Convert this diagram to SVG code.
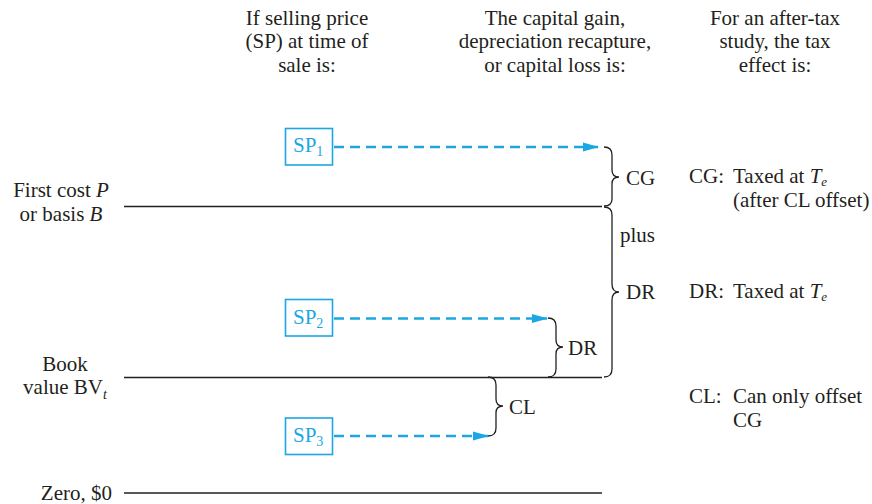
<svg xmlns="http://www.w3.org/2000/svg" width="872" height="504" viewBox="0 0 872 504">
<defs>
<style>
text{font-family:"Liberation Serif","Times New Roman",serif;font-size:21px;fill:#231f20}
.c{text-anchor:middle}
.sp{fill:#1aa7e4}
.sub{font-size:14px}
.sube{font-size:13px}
.box{fill:none;stroke:#1aa7e4;stroke-width:1.6}
.arr{stroke:#1aa7e4;stroke-width:2.6;stroke-dasharray:10 6;fill:none}
.ln{stroke:#231f20;stroke-width:1.4;fill:none}
.br{stroke:#231f20;stroke-width:1.3;fill:none}
</style>
<marker id="ah" viewBox="0 0 16 10" refX="15" refY="5" markerWidth="16" markerHeight="10" markerUnits="userSpaceOnUse" orient="auto">
<path d="M0,0.5 L16,5 L0,9.5 z" fill="#1aa7e4"/>
</marker>
</defs>
<rect width="872" height="504" fill="#ffffff"/>

<g id="headers">
<text class="c" x="307" y="25">If selling price</text>
<text class="c" x="307" y="48">(SP) at time of</text>
<text class="c" x="307" y="72">sale is:</text>
<text class="c" x="555" y="25">The capital gain,</text>
<text class="c" x="555" y="48">depreciation recapture,</text>
<text class="c" x="555" y="72">or capital loss is:</text>
<text class="c" x="775" y="25">For an after-tax</text>
<text class="c" x="775" y="48">study, the tax</text>
<text class="c" x="775" y="72">effect is:</text>
</g>

<g id="level-first-cost">
<text class="c" x="61" y="197">First cost <tspan font-style="italic">P</tspan></text>
<text class="c" x="61" y="221">or basis <tspan font-style="italic">B</tspan></text>
</g>
<g id="level-book-value">
<text class="c" x="65" y="371">Book</text>
<text class="c" x="65" y="394">value BV<tspan class="sub" font-style="italic" dy="5">t</tspan></text>
</g>
<g id="level-zero">
<text x="112" y="500" text-anchor="end">Zero, $0</text>
</g>

<g id="sp1">
<rect class="box" x="285.5" y="128.5" width="47" height="36.5"/>
<text class="sp" x="293" y="152">SP<tspan class="sub" dy="4">1</tspan></text>
</g>
<g id="sp2">
<rect class="box" x="285.5" y="299.5" width="47" height="36.5"/>
<text class="sp" x="293" y="323.5">SP<tspan class="sub" dy="4">2</tspan></text>
</g>
<g id="sp3">
<rect class="box" x="285.5" y="418" width="47" height="36.5"/>
<text class="sp" x="293" y="442">SP<tspan class="sub" dy="4">3</tspan></text>
</g>

<g id="connectors">
<line class="ln" x1="124" y1="206.5" x2="602" y2="206.5"/>
<line class="ln" x1="124" y1="377.5" x2="602" y2="377.5"/>
<line class="ln" x1="124" y1="493" x2="602" y2="493"/>
<line class="arr" x1="334" y1="147" x2="598" y2="147" marker-end="url(#ah)"/>
<line class="arr" x1="334" y1="318.5" x2="547" y2="318.5" marker-end="url(#ah)"/>
<line class="arr" x1="334" y1="436" x2="488" y2="436" marker-end="url(#ah)"/>
<path class="br" d="M604,147 Q612,147 612,155 L612,170 Q612,177 619,177 Q612,177 612,184 L612,199 Q612,206 604,206"/>
<path class="br" d="M604,207 Q612,207 612,215 L612,284 Q612,292 619,292 Q612,292 612,300 L612,369 Q612,377 604,377"/>
<path class="br" d="M548,318 Q556,318 556,326 L556,340 Q556,347 563,347 Q556,347 556,354 L556,369 Q556,377 548,377"/>
<path class="br" d="M488,377 Q496,377 496,385 L496,399 Q496,406 503,406 Q496,406 496,413 L496,428 Q496,436 488,436"/>
</g>

<g id="labels">
<text x="626" y="185">CG</text>
<text x="620" y="242">plus</text>
<text x="626" y="299">DR</text>
<text x="568" y="355">DR</text>
<text x="509" y="414">CL</text>
</g>

<g id="tax-effects">
<text x="689" y="183">CG:</text>
<text x="733" y="183">Taxed at <tspan font-style="italic">T</tspan><tspan class="sube" font-style="italic" dy="3">e</tspan></text>
<text x="733" y="207">(after CL offset)</text>
<text x="689" y="298">DR:</text>
<text x="733" y="298">Taxed at <tspan font-style="italic">T</tspan><tspan class="sube" font-style="italic" dy="3">e</tspan></text>
<text x="689" y="403">CL:</text>
<text x="733" y="403">Can only offset</text>
<text x="733" y="427">CG</text>
</g>
</svg>
